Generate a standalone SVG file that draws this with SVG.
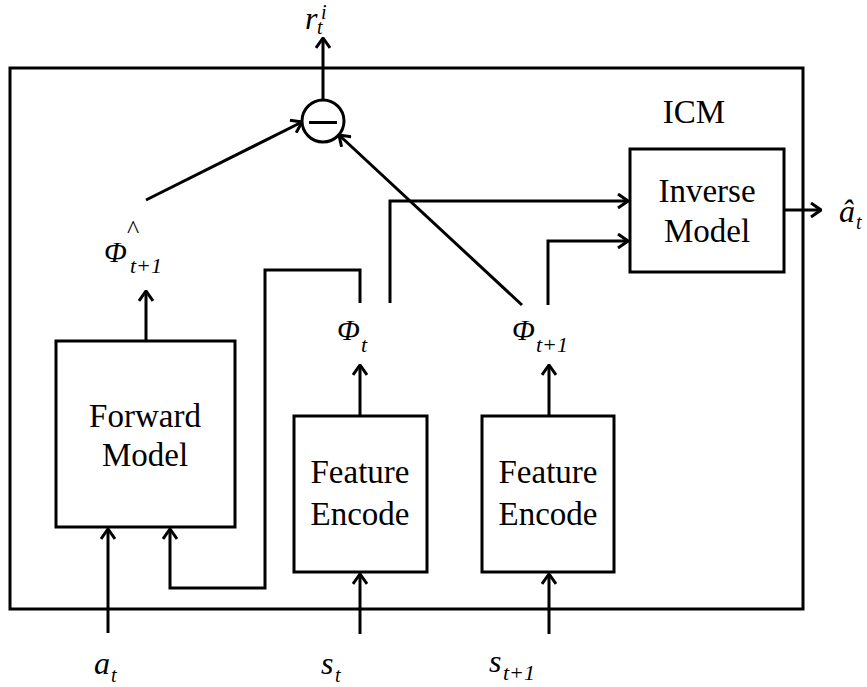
<svg xmlns="http://www.w3.org/2000/svg" width="867" height="687" viewBox="0 0 867 687">
  <style>
    .box { fill: #fff; stroke: #000; stroke-width: 3; }
    .frame { fill: none; stroke: #000; stroke-width: 3; }
    .wire { fill: none; stroke: #000; stroke-width: 3; }
    text { font-family: "Liberation Serif", "Tinos", "Times New Roman", "DejaVu Serif", serif; fill: #000; }
    .lbl { font-size: 33px; text-anchor: middle; }
    .m { font-style: italic; }
    .hat { font-style: normal; }
  </style>
  <defs>
    <marker id="arrow" viewBox="0 0 12 16" refX="11" refY="8" markerWidth="12" markerHeight="16" markerUnits="userSpaceOnUse" orient="auto">
      <path d="M1,1 L11,8 L1,15" fill="none" stroke="#000" stroke-width="3"/>
    </marker>
  </defs>
  <rect width="867" height="687" fill="#fff"/>

  <!-- ICM module frame -->
  <g id="icm">
    <rect class="frame" x="10" y="68" width="793" height="541"/>
    <text class="lbl" x="694" y="123" font-size="32">ICM</text>
  </g>

  <!-- connectors -->
  <g id="connectors">
    <path class="wire" d="M108,633 L108,529" marker-end="url(#arrow)"/>
    <path class="wire" d="M360,634 L360,574" marker-end="url(#arrow)"/>
    <path class="wire" d="M549,634 L549,574" marker-end="url(#arrow)"/>
    <path class="wire" d="M360,416 L360,365" marker-end="url(#arrow)"/>
    <path class="wire" d="M549,416 L549,365" marker-end="url(#arrow)"/>
    <path class="wire" d="M146,341 L146,291" marker-end="url(#arrow)"/>
    <path class="wire" d="M360,303 L360,270 L265,270 L265,588 L170,588 L170,529" marker-end="url(#arrow)"/>
    <path class="wire" d="M390,303 L390,201 L628,201" marker-end="url(#arrow)"/>
    <path class="wire" d="M548,305 L548,241 L628,241" marker-end="url(#arrow)"/>
    <path class="wire" d="M522,305 L339,135" marker-end="url(#arrow)"/>
    <path class="wire" d="M146,200 L302,122" marker-end="url(#arrow)"/>
    <path class="wire" d="M323,100 L323,38" marker-end="url(#arrow)"/>
    <path class="wire" d="M784,210 L821,210" marker-end="url(#arrow)"/>
  </g>

  <!-- difference node -->
  <g id="subtract">
    <circle cx="323" cy="121" r="21" fill="#fff" stroke="#000" stroke-width="3"/>
    <line x1="309" y1="122.5" x2="337" y2="122.5" stroke="#000" stroke-width="3"/>
  </g>

  <g id="forward-model">
    <rect class="box" x="56" y="341" width="179" height="186"/>
    <text class="lbl" x="145" y="427">Forward</text>
    <text class="lbl" x="145" y="466">Model</text>
  </g>

  <g id="feature-encode-1">
    <rect class="box" x="294" y="416" width="133" height="156"/>
    <text class="lbl" x="360" y="483">Feature</text>
    <text class="lbl" x="360" y="525">Encode</text>
  </g>

  <g id="feature-encode-2">
    <rect class="box" x="482" y="416" width="132" height="156"/>
    <text class="lbl" x="548" y="483">Feature</text>
    <text class="lbl" x="548" y="525">Encode</text>
  </g>

  <g id="inverse-model">
    <rect class="box" x="630" y="149" width="154" height="123"/>
    <text class="lbl" x="707" y="202">Inverse</text>
    <text class="lbl" x="707" y="242">Model</text>
  </g>

  <!-- signal labels -->
  <g id="labels">
    <text class="m" x="305" y="29" font-size="32">r</text>
    <text class="m" x="317" y="34" font-size="20">t</text>
    <text class="m" x="321" y="19" font-size="20">i</text>

    <text class="hat" x="133" y="238" font-size="26" text-anchor="middle">^</text>
    <text class="m" x="104" y="262" font-size="30">Φ</text>
    <text class="m" x="130" y="273" font-size="22">t+1</text>

    <text class="m" x="337" y="340" font-size="30">Φ</text>
    <text class="m" x="361" y="352" font-size="22">t</text>

    <text class="m" x="512" y="340" font-size="30">Φ</text>
    <text class="m" x="536" y="352" font-size="22">t+1</text>

    <text class="m" x="839" y="222" font-size="32">â</text>
    <text class="m" x="856" y="229" font-size="20">t</text>

    <text class="m" x="94" y="674" font-size="32">a</text>
    <text class="m" x="111" y="682" font-size="20">t</text>

    <text class="m" x="321" y="674" font-size="32">s</text>
    <text class="m" x="335" y="682" font-size="20">t</text>

    <text class="m" x="489" y="672" font-size="32">s</text>
    <text class="m" x="503" y="680" font-size="22">t+1</text>
  </g>
</svg>
